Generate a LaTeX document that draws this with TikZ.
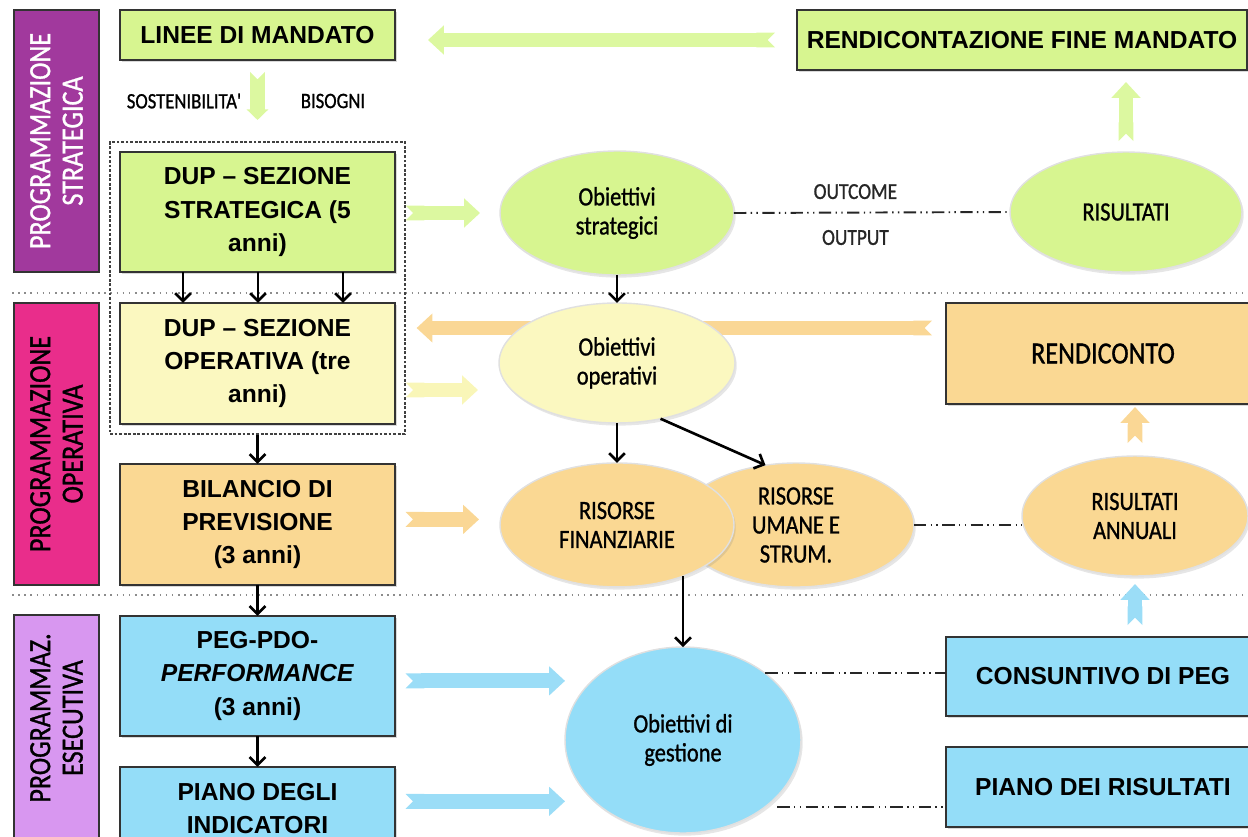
\documentclass[tikz,border=0pt]{standalone}
\usepackage{fontspec}
\setmainfont{Liberation Sans}
\newfontfamily\condfont[FakeStretch=0.85, FakeBold=1]{Carlito}
\usetikzlibrary{positioning,shapes.geometric,arrows.meta,fit,calc,shadows}

\definecolor{grn}{HTML}{D7F590}
\definecolor{ylw}{HTML}{FBF8C0}
\definecolor{org}{HTML}{FAD893}
\definecolor{blu}{HTML}{94DDF8}
\definecolor{viola}{HTML}{A1399D}
\definecolor{fucsia}{HTML}{E92D8B}
\definecolor{lilla}{HTML}{D897F0}
\definecolor{aGrn}{HTML}{DCF8A0}
\definecolor{aYlw}{HTML}{F9F6B8}
\definecolor{aOrg}{HTML}{FAD795}
\definecolor{aBlu}{HTML}{9BDDF7}

\pgfdeclarelayer{bg}
\pgfsetlayers{bg,main}

\tikzset{
  box/.style={draw=black!80, line width=0.8pt, minimum width=5.5cm, minimum height=2.4cm,
    align=center, inner sep=0pt, outer sep=0pt, font=\fontsize{14}{19}\selectfont\bfseries,
    drop shadow={shadow xshift=1pt, shadow yshift=-1.2pt, opacity=0.3}},
  side/.style={draw=black!80, line width=0.8pt, rotate=90, minimum height=1.7cm,
    align=center, inner sep=0pt, outer sep=0pt, font=\condfont\fontsize{17.5}{18.5}\selectfont},
  sidetxt/.style={rotate=90, align=center, inner sep=0pt, font=\condfont\fontsize{17.5}{18.5}\selectfont},
  ell/.style={ellipse, draw=white!88!black, line width=0.8pt, inner sep=0pt, outer sep=0pt,
    align=center, font=\condfont\fontsize{15}{16.5}\selectfont,
    drop shadow={shadow xshift=1pt, shadow yshift=-1.5pt, opacity=0.2}},
  lbl/.style={inner sep=0pt, font=\condfont\fontsize{12.5}{14}\selectfont},
  frame/.style={draw=black!75, line width=0.7pt, dash pattern=on 1.6pt off 1pt, inner sep=0.2cm},
  sep/.style={draw=black!45, line width=0.9pt, dash pattern=on 0.9pt off 2.6pt},
  blk/.style={-{Straight Barb[length=4.5pt,width=9pt]}, line width=1.5pt},
  dd/.style={line width=1.1pt, black!85, dash pattern=on 7pt off 2.5pt on 0.8pt off 2.5pt on 0.8pt off 2.5pt},
  fat/.style={line width=8.5pt, {Triangle Cap[reversed]}-{Triangle[width=16pt,length=9pt]}},
  fatsm/.style={line width=8.5pt, {Triangle Cap[reversed]}-{Triangle[width=12pt,length=6pt]}},
}

\begin{document}
\begin{tikzpicture}[x=0.02cm, y=-0.02cm]
  \useasboundingbox (0,0) rectangle (1248,836);
  \clip (0,0) rectangle (1248,836);

  \node[side, fill=viola, text=white, minimum width=5.24cm] (strat) at (56.5,141) {PROGRAMMAZIONE\\STRATEGICA};
  \node[side, fill=fucsia, minimum width=5.64cm] (oper) at (56.5,444) {PROGRAMMAZIONE\\OPERATIVA};
  \node[side, fill=lilla, minimum width=4.9cm] (esec) at (56.5,737.5) {};
  \node[sidetxt] (esecT) at (56.5,718) {PROGRAMMAZ.\\ESECUTIVA};

  \node[box, fill=grn, minimum height=1cm] (linee) at (257.5,35) {LINEE DI MANDATO};
  \node[box, fill=grn, below=1.84cm of linee] (dupS) {DUP – SEZIONE\\STRATEGICA (5\\anni)};
  \node[box, fill=ylw, minimum height=2.42cm, below=0.62cm of dupS] (dupO) {DUP – SEZIONE\\OPERATIVA (tre\\anni)};
  \node[box, fill=org, minimum height=2.42cm, below=0.8cm of dupO] (bil) {BILANCIO DI\\PREVISIONE\\(3 anni)};
  \node[box, fill=blu, below=0.62cm of bil] (peg) {PEG-PDO-\\\textit{PERFORMANCE}\\(3 anni)};
  \node[box, fill=blu, minimum height=1.66cm, below=0.62cm of peg] (piano) {PIANO DEGLI\\INDICATORI};
  \node[frame, fit=(dupS)(dupO)] (frame) {};

  \node[lbl] (sost) at (184,101) {SOSTENIBILITA'};
  \node[lbl] (bis) at (333,101) {BISOGNI};

  \node[ell, fill=grn, minimum width=4.68cm, minimum height=2.48cm] (obS) at (617,213) {Obiettivi\\strategici};
  \node[ell, fill=ylw, minimum width=4.72cm, minimum height=2.4cm, below=0.56cm of obS] (obO) {Obiettivi\\operativi};
  \node[ell, fill=org, minimum width=4.72cm, minimum height=2.48cm] (risU) at (796,525) {RISORSE\\UMANE E\\STRUM.};
  \node[ell, fill=org, minimum width=4.68cm, minimum height=2.48cm, below=0.8cm of obO] (risF) {RISORSE\\FINANZIARIE};
  \node[ell, fill=grn, minimum width=4.64cm, minimum height=2.4cm] (ris) at (1126,212) {RISULTATI};
  \node[ell, fill=org, minimum width=4.52cm, minimum height=2.4cm] (risA) at (1135,516) {RISULTATI\\ANNUALI};
  \node[ell, fill=blu, minimum width=4.72cm, minimum height=3.72cm] (obG) at (683,740) {Obiettivi di\\gestione};

  \node[box, fill=grn, minimum width=9cm, minimum height=1.2cm] (rendFM) at (1022,40) {RENDICONTAZIONE FINE MANDATO};
  \node[box, fill=org, minimum width=6.28cm, minimum height=2.02cm, font=\condfont\fontsize{17.5}{20}\selectfont] (rendic) at (1103,353.5) {RENDICONTO};
  \node[box, fill=blu, minimum width=6.28cm, minimum height=1.58cm] (cons) at (1103,676.5) {CONSUNTIVO DI PEG};
  \node[box, fill=blu, minimum width=6.28cm, minimum height=1.6cm] (pianoR) at (1103,787) {PIANO DEI RISULTATI};

  \begin{pgfonlayer}{bg}
    \draw[sep] (12,293) -- (1248,293);
    \draw[sep] (12,595) -- (1248,595);
    \draw[fat, aGrn, shorten <=0.44cm, shorten >=0.66cm] (rendFM.west) -- (rendFM.west -| linee.east);
    \draw[fatsm, aGrn, shorten <=0.24cm, shorten >=0.64cm] (linee.south) -- (dupS.north);
    \draw[fat, aGrn, shorten >=0.4cm] (frame.east |- obS.west) -- (obS.west);
    \draw[fat, aYlw, shorten >=0.42cm] ($(frame.east |- obO.west)+(0,27)$) -- ($(obO.west)+(0,27)$);
    \draw[fat, aOrg, shorten >=0.42cm] ($(frame.east |- bil.east)+(0,-5)$) -- ($(bil.east -| risF.west)+(0,-5)$);
    \draw[fat, aBlu] ($(frame.east |- peg.east)+(0,5)$) -- ($(peg.east -| obG.west)+(0,5)$);
    \draw[fat, aBlu] ($(frame.east |- piano.east)+(0,-7)$) -- ($(piano.east -| obG.west)+(0,-7)$);
    \draw[fat, aOrg, shorten <=0.28cm, shorten >=0.22cm] ($(rendic.west)+(0,-25.5)$) -- ($(frame.east |- rendic.west)+(0,-25.5)$);
    \draw[fat, aGrn, shorten <=0.22cm, shorten >=0.24cm] (ris.north) -- (ris.north |- rendFM.south);
    \draw[fat, aOrg, shorten <=0.26cm, shorten >=0.06cm] (risA.north) -- (risA.north |- rendic.south);
    \draw[fat, aBlu, shorten <=0.24cm, shorten >=0.16cm] (risA.south |- cons.north) -- (risA.south);
  \end{pgfonlayer}

  \foreach \dx in {-74.5,0.5,85.5}
    \draw[blk] ($(dupS.south)+(\dx,0)$) -- ($(dupO.north)+(\dx,0)$);
  \draw[blk] (frame.south) -- (frame.south |- bil.north);
  \draw[blk] (bil.south) -- (peg.north);
  \draw[blk] (peg.south) -- (piano.north);
  \draw[blk] (obS.south) -- (obO.north);
  \draw[blk] (obO.south) -- (risF.north);
  \draw[blk] (obO.-52) -- (risU.117);
  \draw[blk] (obG.north |- risF.-38) -- (obG.north);

  \draw[dd] (obS.east) -- node[lbl, pos=0.44, above=0.25cm, font=\condfont\fontsize{13}{14}\selectfont] (outc) {OUTCOME}
    node[lbl, pos=0.44, below=0.33cm, font=\condfont\fontsize{13}{14}\selectfont] (outp) {OUTPUT} (ris.west);
  \draw[dd] (risU.east) -- (risU.east -| risA.west);
  \draw[dd] (obG.39) -- (obG.39 -| cons.west);
  \draw[dd, shorten <=0.24cm] (obG.-39) -- (obG.-39 -| pianoR.west);
\end{tikzpicture}
\end{document}
